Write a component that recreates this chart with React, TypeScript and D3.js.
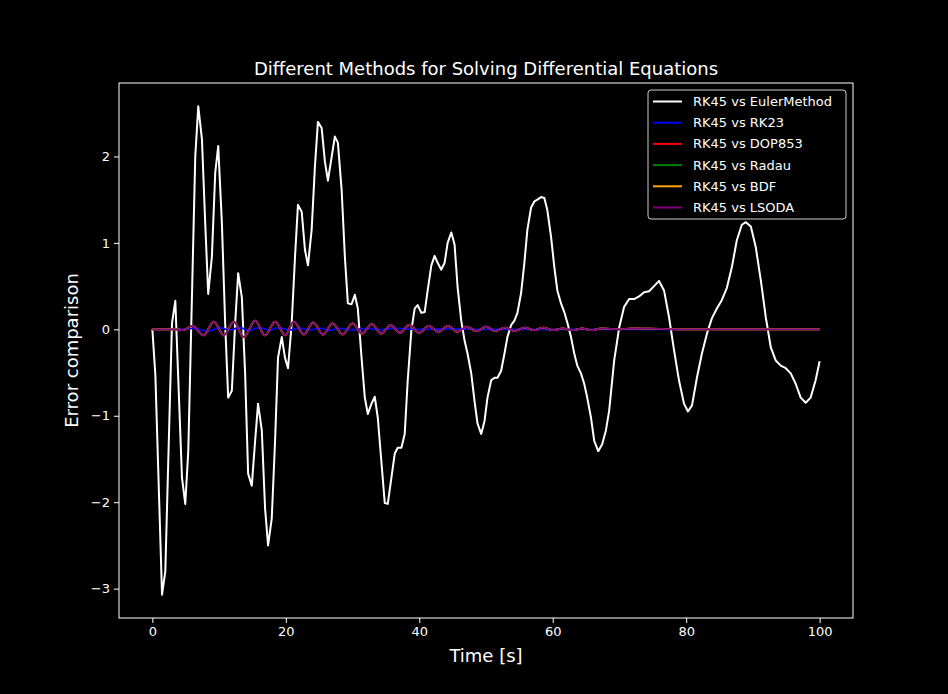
import * as d3 from "d3";
import { useEffect, useRef } from "react";

// RK45 vs EulerMethod error: [time, error]
const EULER: [number, number][] = [
  [0, 0], [0.45, -0.53], [1.45, -3.07], [1.94, -2.8], [2.94, 0.07], [3.44, 0.33], [4.44, -1.72], [4.93, -2.02],
  [5.38, -1.41], [6.43, 2.0], [6.88, 2.58], [7.43, 2.2], [7.92, 1.23], [8.37, 0.41], [8.92, 0.84], [9.42, 1.81],
  [9.87, 2.12], [10.42, 1.23], [10.91, 0.07], [11.36, -0.79], [11.91, -0.71], [12.41, 0.07], [12.86, 0.65],
  [13.41, 0.37], [13.9, -0.51], [14.35, -1.67], [14.9, -1.81], [15.4, -1.29], [15.84, -0.86], [16.4, -1.17],
  [16.89, -2.07], [17.34, -2.5], [17.89, -2.19], [18.39, -1.29], [18.83, -0.33], [19.39, -0.09], [19.88, -0.33],
  [20.33, -0.45], [20.88, 0.07], [21.38, 0.84], [21.82, 1.44], [22.38, 1.36], [22.87, 0.92], [23.32, 0.74],
  [23.87, 1.15], [24.36, 1.88], [24.81, 2.4], [25.37, 2.33], [25.86, 1.94], [26.31, 1.72], [26.86, 1.99],
  [27.35, 2.23], [27.8, 2.16], [28.36, 1.62], [28.85, 0.84], [29.3, 0.3], [29.85, 0.29], [30.34, 0.4],
  [30.79, 0.24], [31.35, -0.33], [31.84, -0.79], [32.29, -0.98], [32.84, -0.86], [33.33, -0.78], [33.78, -1.02],
  [34.83, -2.01], [35.28, -2.02], [36.32, -1.44], [36.77, -1.37], [37.32, -1.37], [37.82, -1.21], [38.27, -0.59],
  [38.82, -0.01], [39.31, 0.24], [39.76, 0.28], [40.31, 0.19], [40.81, 0.2], [41.26, 0.45], [41.81, 0.74],
  [42.3, 0.85], [42.75, 0.77], [43.3, 0.69], [43.8, 0.77], [44.25, 1.0], [44.8, 1.12], [45.29, 0.98],
  [45.74, 0.49], [46.29, 0.1], [46.79, -0.13], [47.23, -0.28], [47.79, -0.51], [48.28, -0.83], [48.73, -1.09],
  [49.28, -1.21], [49.78, -1.06], [50.22, -0.79], [50.78, -0.59], [51.27, -0.56], [51.72, -0.56], [52.27, -0.48],
  [52.77, -0.28], [53.21, -0.09], [53.77, 0.05], [54.26, 0.1], [54.71, 0.19], [55.26, 0.42], [55.75, 0.77],
  [56.2, 1.15], [56.76, 1.41], [57.25, 1.48], [57.7, 1.5], [58.25, 1.53], [58.74, 1.52], [59.19, 1.38],
  [59.75, 1.07], [60.24, 0.72], [60.69, 0.45], [61.24, 0.3], [61.73, 0.2], [62.18, 0.08], [62.74, -0.09],
  [63.23, -0.28], [63.68, -0.42], [64.23, -0.51], [64.72, -0.63], [65.17, -0.79], [65.73, -1.02], [66.22, -1.29],
  [66.82, -1.41], [67.41, -1.33], [67.97, -1.17], [68.46, -0.94], [69.21, -0.36], [69.96, 0.02], [70.7, 0.26],
  [71.45, 0.35], [72.2, 0.35], [72.94, 0.38], [73.69, 0.43], [74.44, 0.44], [75.19, 0.5], [75.93, 0.56],
  [76.68, 0.45], [77.43, 0.14], [78.18, -0.24], [78.92, -0.59], [79.67, -0.86], [80.27, -0.95], [80.87, -0.88],
  [81.61, -0.56], [82.36, -0.28], [83.11, -0.05], [83.86, 0.13], [84.6, 0.24], [85.35, 0.34], [86.1, 0.48],
  [86.85, 0.72], [87.59, 1.03], [88.34, 1.21], [88.94, 1.24], [89.69, 1.19], [90.43, 0.95], [91.18, 0.57],
  [91.93, 0.14], [92.68, -0.21], [93.42, -0.36], [94.17, -0.42], [94.92, -0.45], [95.67, -0.51], [96.41, -0.63],
  [97.16, -0.79], [97.91, -0.85], [98.65, -0.79], [99.4, -0.59], [100, -0.37],
];

// high-order solvers agree with each other; extrema of the small oscillation
const HIGH_ORDER: [number, number][] = [
  [0, 0], [2, 0], [3.5, 0], [4.6, -0.01], [6, 0.04], [7.7, -0.07], [9.2, 0.09], [10.7, -0.07], [12.2, 0.09],
  [13.7, -0.09], [15.4, 0.1], [16.9, -0.07], [18.4, 0.09], [19.9, -0.07], [21.2, 0.09], [22.7, -0.06],
  [24.1, 0.08], [25.6, -0.06], [27, 0.07], [28.5, -0.06], [30, 0.07], [31.4, -0.05], [32.9, 0.06],
  [34.3, -0.05], [35.7, 0.05], [37.1, -0.04], [38.5, 0.05], [40, -0.04], [41.4, 0.04], [42.9, -0.03],
  [44.3, 0.04], [45.7, -0.03], [47.1, 0.03], [48.6, -0.02], [50, 0.03], [51.4, -0.02], [52.8, 0.02],
  [54.3, -0.02], [55.8, 0.02], [57.2, -0.01], [58.6, 0.02], [60, -0.01], [61.5, 0.01], [63, -0.01],
  [64.4, 0.01], [65.8, -0.01], [67.3, 0.01], [70, 0], [72, 0.01], [76, 0.005], [80, 0], [100, 0],
];

const RK23: [number, number][] = [
  [0, 0], [4, 0], [6, 0.01], [8.5, -0.02], [10, 0.02], [11.5, -0.01], [13, 0.02], [14.5, -0.01], [16, 0.02],
  [17.5, -0.01], [19, 0.02], [20.5, -0.01], [22, 0.015], [23.5, -0.01], [25, 0.015], [26.5, -0.01], [28, 0.01],
  [30, -0.005], [32, 0.01], [34, -0.005], [36, 0.01], [40, 0], [45, 0.005], [50, 0], [60, 0], [100, 0],
];

const SERIES = [
  { label: "RK45 vs EulerMethod", color: "#ffffff", data: EULER },
  { label: "RK45 vs RK23", color: "#0000ff", data: RK23 },
  { label: "RK45 vs DOP853", color: "#ff0000", data: HIGH_ORDER },
  { label: "RK45 vs Radau", color: "#008000", data: HIGH_ORDER },
  { label: "RK45 vs BDF", color: "#ffa500", data: HIGH_ORDER },
  { label: "RK45 vs LSODA", color: "#800080", data: HIGH_ORDER },
];

const X_TICKS = [0, 20, 40, 60, 80, 100];
const Y_TICKS = [-3, -2, -1, 0, 1, 2];

export default function App() {
  const ref = useRef<SVGSVGElement | null>(null);

  useEffect(() => {
    const svg = d3.select(ref.current);
    svg.selectAll("*").remove();
    const W = 948, H = 694;
    const m = { left: 119, right: 853, top: 83, bottom: 618 };
    const font = "DejaVu Sans, sans-serif";

    svg.append("rect").attr("width", W).attr("height", H).attr("fill", "#000");

    const x = d3.scaleLinear().domain([-5, 105]).range([m.left, m.right]);
    const y = d3.scaleLinear().domain([-3.34, 2.85]).range([m.bottom, m.top]);

    const clipId = "plotclip";
    svg.append("clipPath").attr("id", clipId).append("rect")
      .attr("x", m.left).attr("y", m.top).attr("width", m.right - m.left).attr("height", m.bottom - m.top);

    const line = d3.line<[number, number]>().x((d) => x(d[0])).y((d) => y(d[1]));
    const smooth = d3.line<[number, number]>().x((d) => x(d[0])).y((d) => y(d[1])).curve(d3.curveMonotoneX);

    const plot = svg.append("g").attr("clip-path", `url(#${clipId})`);
    SERIES.forEach((s, i) => {
      plot.append("path")
        .attr("d", (i === 0 ? line : smooth)(s.data) ?? "")
        .attr("fill", "none")
        .attr("stroke", s.color)
        .attr("stroke-width", i === 0 ? 2 : 1.8)
        .attr("stroke-linejoin", "round");
    });

    svg.append("rect")
      .attr("x", m.left).attr("y", m.top).attr("width", m.right - m.left).attr("height", m.bottom - m.top)
      .attr("fill", "none").attr("stroke", "#fff").attr("stroke-width", 1);

    const xAxis = svg.append("g").attr("transform", `translate(0,${m.bottom})`)
      .call(d3.axisBottom(x).tickValues(X_TICKS).tickSize(5).tickPadding(4).tickFormat(d3.format("d")));
    const yAxis = svg.append("g").attr("transform", `translate(${m.left},0)`)
      .call(d3.axisLeft(y).tickValues(Y_TICKS).tickSize(5).tickPadding(4)
        .tickFormat((d) => (d as number) < 0 ? `−${Math.abs(d as number)}` : `${d}`));
    [xAxis, yAxis].forEach((a) => {
      a.select(".domain").remove();
      a.selectAll("line").attr("stroke", "#fff");
      a.selectAll("text").attr("fill", "#fff").attr("font-size", 13).attr("font-family", font);
    });

    svg.append("text").attr("x", (m.left + m.right) / 2).attr("y", 75).attr("text-anchor", "middle")
      .attr("fill", "#fff").attr("font-size", 18).attr("font-family", font)
      .text("Different Methods for Solving Differential Equations");
    svg.append("text").attr("x", (m.left + m.right) / 2).attr("y", 662).attr("text-anchor", "middle")
      .attr("fill", "#fff").attr("font-size", 18).attr("font-family", font).text("Time [s]");
    svg.append("text").attr("transform", `translate(78,${(m.top + m.bottom) / 2}) rotate(-90)`)
      .attr("text-anchor", "middle").attr("fill", "#fff").attr("font-size", 18).attr("font-family", font)
      .text("Error comparison");

    const lg = svg.append("g").attr("transform", "translate(648,90)");
    lg.append("rect").attr("width", 198).attr("height", 129).attr("rx", 3)
      .attr("fill", "#000").attr("fill-opacity", 0.8).attr("stroke", "#ccc").attr("stroke-width", 1);
    SERIES.forEach((s, i) => {
      const yy = 11.5 + i * 21.2;
      lg.append("line").attr("x1", 5).attr("x2", 34).attr("y1", yy).attr("y2", yy)
        .attr("stroke", s.color).attr("stroke-width", 2);
      lg.append("text").attr("x", 45).attr("y", yy).attr("dy", "0.35em")
        .attr("fill", "#fff").attr("font-size", 13).attr("font-family", font).text(s.label);
    });
  }, []);

  return <svg ref={ref} width={948} height={694} style={{ display: "block", position: "absolute", left: 0, top: 0 }} />;
}
